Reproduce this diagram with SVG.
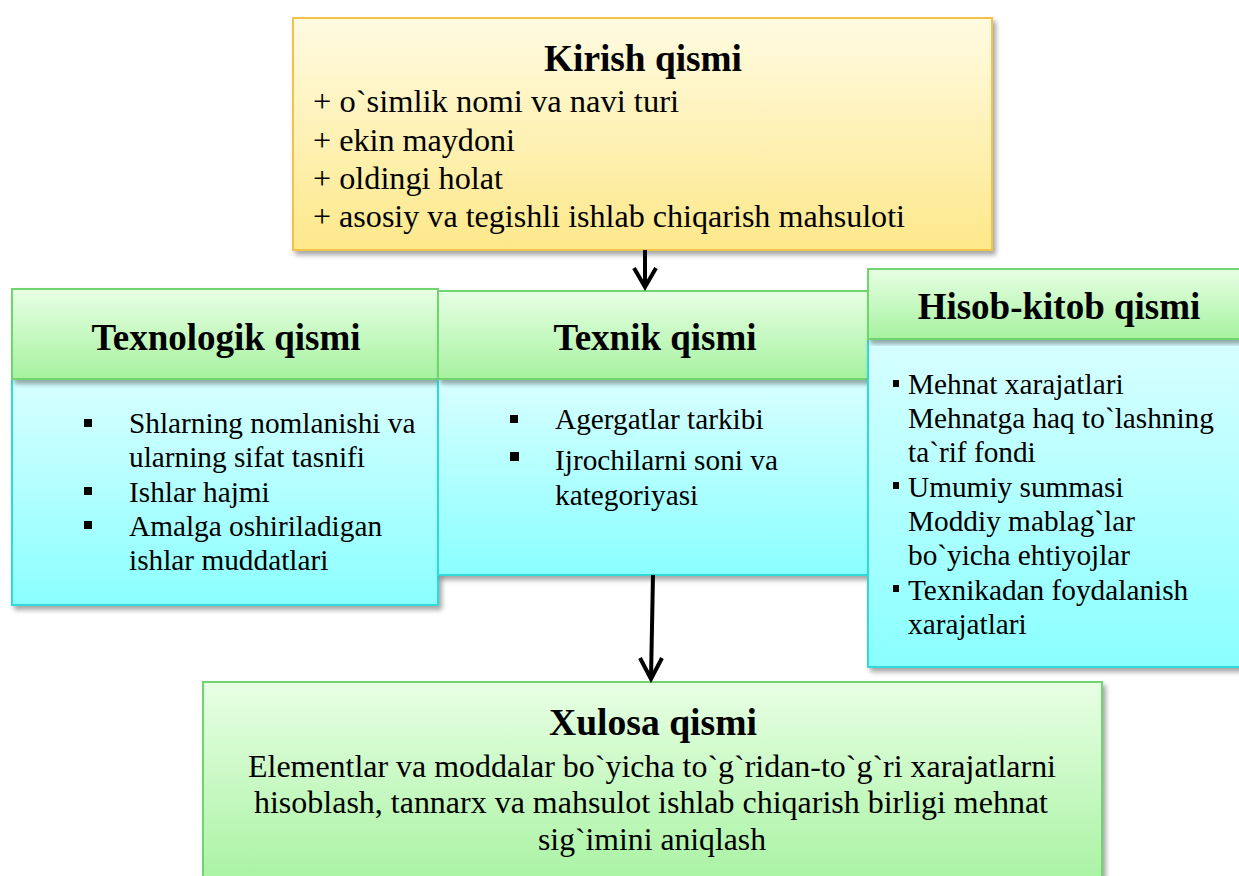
<svg xmlns="http://www.w3.org/2000/svg" width="1239" height="876" viewBox="0 0 1239 876" font-family="Liberation Serif, Times New Roman, serif">
<style>
.t{font-weight:bold;font-size:37px;text-anchor:middle}
.b{font-size:29.3px}
.k{font-size:31px}
.x{font-size:31px;text-anchor:middle}
.hdr{fill:url(#gG);stroke:#6fd46f;stroke-width:2}
.bod{fill:url(#gC);stroke:#33d9d9;stroke-width:2}
.arr{stroke:#000;stroke-width:4;fill:none}
</style>
<defs>
<linearGradient id="gY" x1="0" y1="0" x2="0" y2="1"><stop offset="0" stop-color="#fffbe2"/><stop offset="1" stop-color="#fde88a"/></linearGradient>
<linearGradient id="gG" x1="0" y1="0" x2="0" y2="1"><stop offset="0" stop-color="#e8ffe4"/><stop offset="1" stop-color="#a6f2a0"/></linearGradient>
<linearGradient id="gC" x1="0" y1="0" x2="0" y2="1"><stop offset="0" stop-color="#d8ffff"/><stop offset="1" stop-color="#8affff"/></linearGradient>
<filter id="sh" x="-5%" y="-5%" width="112%" height="115%"><feDropShadow dx="3" dy="4" stdDeviation="2.5" flood-color="#000" flood-opacity="0.35"/></filter>
</defs>

<g id="kirish">
<rect x="293" y="18" width="699" height="232" fill="url(#gY)" stroke="#f2c24a" stroke-width="2" filter="url(#sh)"/>
<text class="t" x="643" y="71" textLength="198" lengthAdjust="spacingAndGlyphs">Kirish qismi</text>
<text class="k" x="313" y="112" textLength="366" lengthAdjust="spacingAndGlyphs">+ o`simlik nomi va navi turi</text>
<text class="k" x="313" y="151" textLength="202" lengthAdjust="spacingAndGlyphs">+ ekin maydoni</text>
<text class="k" x="313" y="189" textLength="190" lengthAdjust="spacingAndGlyphs">+ oldingi holat</text>
<text class="k" x="313" y="227" textLength="592" lengthAdjust="spacingAndGlyphs">+ asosiy va tegishli ishlab chiqarish mahsuloti</text>
</g>

<g id="texnologik">
<rect class="bod" x="12" y="379" width="426" height="226" filter="url(#sh)"/>
<rect class="hdr" x="12" y="289" width="426" height="90" filter="url(#sh)"/>
<text class="t" x="226" y="350">Texnologik qismi</text>
<rect x="84" y="419" width="8" height="8"/>
<rect x="84" y="487" width="8" height="8"/>
<rect x="84" y="521" width="8" height="8"/>
<text class="b" x="129" y="433">Shlarning nomlanishi va</text>
<text class="b" x="129" y="467">ularning sifat tasnifi</text>
<text class="b" x="129" y="502">Ishlar hajmi</text>
<text class="b" x="129" y="536">Amalga oshiriladigan</text>
<text class="b" x="129" y="570">ishlar muddatlari</text>
</g>

<g id="texnik">
<rect class="bod" x="438" y="379" width="432" height="196" filter="url(#sh)"/>
<rect class="hdr" x="438" y="291" width="432" height="88" filter="url(#sh)"/>
<text class="t" x="655" y="350">Texnik qismi</text>
<rect x="510" y="415" width="8" height="8"/>
<rect x="510" y="452" width="9" height="9"/>
<text class="b" x="555" y="429">Agergatlar tarkibi</text>
<text class="b" x="555" y="470">Ijrochilarni soni va</text>
<text class="b" x="555" y="505">kategoriyasi</text>
</g>

<g id="hisob">
<rect class="bod" x="868" y="339" width="380" height="328" filter="url(#sh)"/>
<rect class="hdr" x="868" y="269" width="380" height="70" filter="url(#sh)"/>
<text class="t" x="1059" y="319">Hisob-kitob qismi</text>
<rect x="893" y="380" width="6" height="7"/>
<rect x="893" y="482" width="6" height="7"/>
<rect x="893" y="585" width="6" height="7"/>
<text class="b" x="908" y="394">Mehnat xarajatlari</text>
<text class="b" x="908" y="428">Mehnatga haq to`lashning</text>
<text class="b" x="908" y="462">ta`rif fondi</text>
<text class="b" x="908" y="497">Umumiy summasi</text>
<text class="b" x="908" y="531">Moddiy mablag`lar</text>
<text class="b" x="908" y="565">bo`yicha ehtiyojlar</text>
<text class="b" x="908" y="600">Texnikadan foydalanish</text>
<text class="b" x="908" y="634">xarajatlari</text>
</g>

<g id="xulosa">
<rect x="203" y="682" width="899" height="210" fill="url(#gG)" stroke="#6fd46f" stroke-width="2" filter="url(#sh)"/>
<text class="t" x="653" y="735" textLength="208" lengthAdjust="spacingAndGlyphs">Xulosa qismi</text>
<text class="x" x="652" y="777" textLength="808" lengthAdjust="spacingAndGlyphs">Elementlar va moddalar bo`yicha to`g`ridan-to`g`ri xarajatlarni</text>
<text class="x" x="651" y="813" textLength="794" lengthAdjust="spacingAndGlyphs">hisoblash, tannarx va mahsulot ishlab chiqarish birligi mehnat</text>
<text class="x" x="652" y="850" textLength="228" lengthAdjust="spacingAndGlyphs">sig`imini aniqlash</text>
</g>

<g id="connectors">
<path class="arr" d="M645 250 V286"/>
<path class="arr" d="M634 268 L645 287 L656 268"/>
<path class="arr" d="M653 575 L651 678"/>
<path class="arr" d="M640 658 L651 679 L662 658"/>
</g>
</svg>
